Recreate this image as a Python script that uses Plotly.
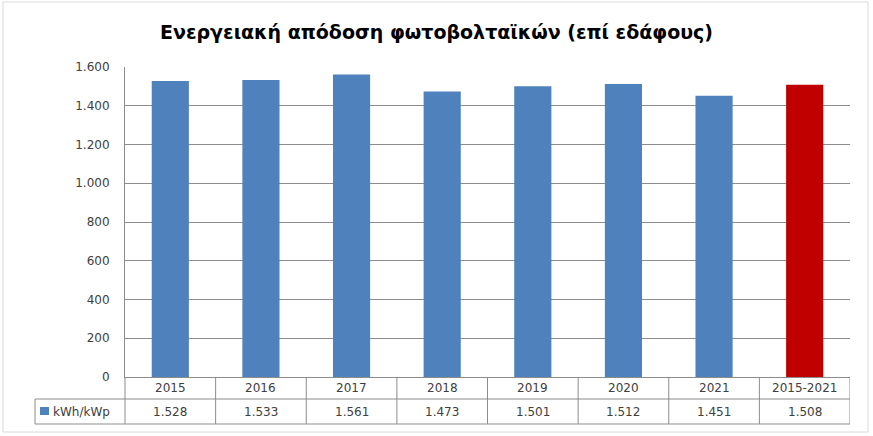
import plotly.graph_objects as go

categories = ["2015", "2016", "2017", "2018", "2019", "2020", "2021", "2015-2021"]
values = [1528, 1533, 1561, 1473, 1501, 1512, 1451, 1508]
bar_colors = ["#4F81BD"] * 7 + ["#C00000"]
series_name = "kWh/kWp"
tick_vals = [0, 200, 400, 600, 800, 1000, 1200, 1400, 1600]
title_text = "Ενεργειακή απόδοση φωτοβολταϊκών (επί εδάφους)"

W, H = 873, 436
L, R, T, B = 125, 23, 67, 59
pw, ph = W - L - R, H - T - B

def px_to_px(px):
    return (px - L) / pw

def py_to_py(py):
    return (H - B - py) / ph

FONT = "DejaVu Sans"
TXT = "#404040"
GRID = "#8C8C8C"

fig = go.Figure()
fig.add_trace(go.Bar(
    x=list(range(len(categories))), y=values,
    marker=dict(color=bar_colors, line=dict(width=0)),
    name=series_name, showlegend=False,
))

shapes = []
ann = []
row1 = py_to_py(399)
row2 = py_to_py(424)
# chart border
shapes.append(dict(type="rect", xref="paper", yref="paper",
                   x0=px_to_px(3), x1=px_to_px(868), y0=py_to_py(432), y1=py_to_py(2),
                   line=dict(color="#D9D9D9", width=1), layer="below"))
# table lines
shapes.append(dict(type="line", xref="paper", yref="paper", x0=px_to_px(35), x1=1,
                   y0=row1, y1=row1, line=dict(color=GRID, width=1)))
shapes.append(dict(type="line", xref="paper", yref="paper", x0=px_to_px(35), x1=1,
                   y0=row2, y1=row2, line=dict(color=GRID, width=1)))
shapes.append(dict(type="line", xref="paper", yref="paper", x0=px_to_px(35), x1=px_to_px(35),
                   y0=row1, y1=row2, line=dict(color=GRID, width=1)))
shapes.append(dict(type="line", xref="paper", yref="paper", x0=0, x1=0,
                   y0=0, y1=row2, line=dict(color=GRID, width=1)))
for i in range(len(categories)):
    xb = i + 0.5
    shapes.append(dict(type="line", xref="x", yref="paper", x0=xb, x1=xb,
                       y0=0, y1=row2, line=dict(color=GRID, width=1)))
    ann.append(dict(x=i, xref="x", y=py_to_py(388), yref="paper", text=categories[i],
                    xanchor="center", yanchor="middle",
                    showarrow=False, font=dict(family=FONT, size=12, color=TXT)))
    ann.append(dict(x=i, xref="x", y=py_to_py(411.5), yref="paper",
                    text=f"{values[i]:,}".replace(",", "."),
                    xanchor="center", yanchor="middle",
                    showarrow=False, font=dict(family=FONT, size=12, color=TXT)))
# legend key in table
shapes.append(dict(type="rect", xref="paper", yref="paper",
                   x0=px_to_px(40), x1=px_to_px(49), y0=py_to_py(415), y1=py_to_py(407),
                   fillcolor="#4F81BD", line=dict(width=0)))
ann.append(dict(x=px_to_px(51), xref="paper", y=py_to_py(411.5), yref="paper", text=series_name,
                xanchor="left", yanchor="middle",
                showarrow=False, font=dict(family=FONT, size=12, color=TXT)))

fig.update_layout(
    width=W, height=H,
    margin=dict(l=L, r=R, t=T, b=B),
    paper_bgcolor="white", plot_bgcolor="white",
    separators=",.",
    bargap=0.59,
    title=dict(text=f"<b>{title_text}</b>", x=0.5, xanchor="center",
               y=1 - 32 / H, yanchor="middle",
               font=dict(family=FONT, size=19, color="#000000")),
    xaxis=dict(range=[-0.5, len(categories) - 0.5], showticklabels=False, showgrid=False,
               zeroline=False, showline=True, linecolor=GRID, ticks=""),
    yaxis=dict(range=[0, 1600], tickvals=tick_vals, tickformat=",d",
               showgrid=True, gridcolor=GRID, gridwidth=1, zeroline=False,
               showline=True, linecolor=GRID, ticks="", ticklen=0,
               ticklabelstandoff=12,
               tickfont=dict(family=FONT, size=12, color=TXT)),
    shapes=shapes, annotations=ann,
)

fig.write_html("out.html", config={"displayModeBar": False},
               post_script="document.body.style.margin='0';document.body.style.overflow='hidden';")
